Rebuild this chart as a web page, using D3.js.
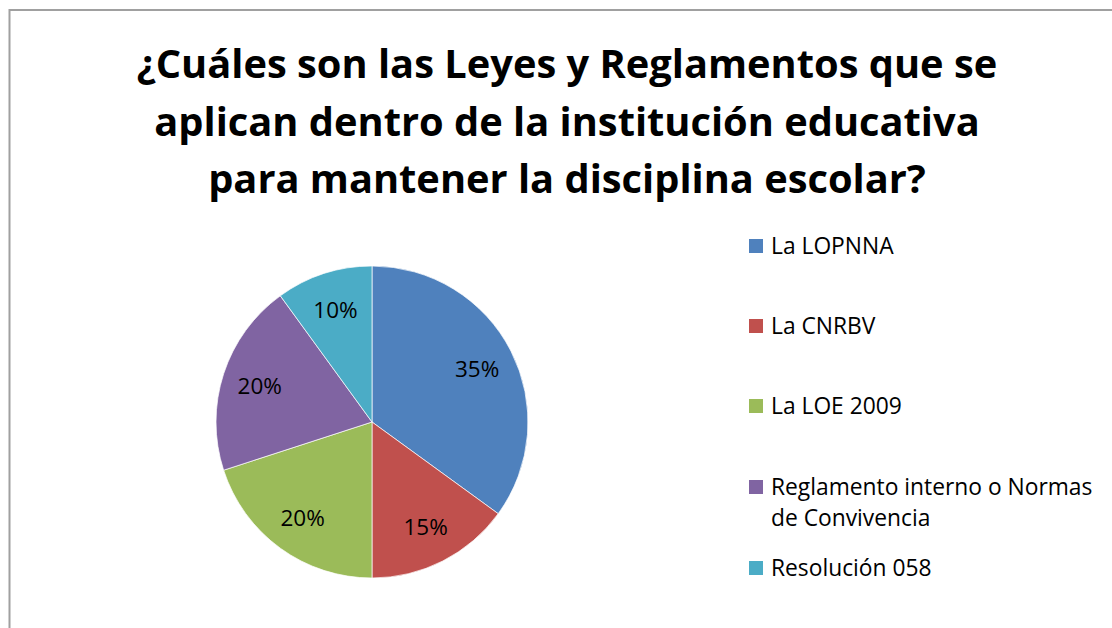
<!DOCTYPE html>
<meta charset="utf-8">
<style>
body { margin: 0; background: #fff; }
text { font-family: "Open Sans", sans-serif; fill: #000; }
.title { font-weight: bold; font-size: 39.8px; }
.legend text { font-size: 22.8px; }
.lbl { font-size: 22.5px; }
</style>
<svg width="1112" height="628"></svg>
<script src="https://cdn.jsdelivr.net/npm/d3@7"></script>
<script>

var categories = ["La LOPNNA", "La CNRBV", "La LOE 2009", "Reglamento interno o Normas de Convivencia", "Resolución 058"];
var values = [35, 15, 20, 20, 10];
var colors = ["#4F81BD", "#C0504D", "#9BBB59", "#8064A2", "#4BACC6"];
var titleLines = ["¿Cuáles son las Leyes y Reglamentos que se", "aplican dentro de la institución educativa", "para mantener la disciplina escolar?"];

var svg = d3.select("svg");

// chart border (only top and left visible in the shot)
svg.append("rect")
    .attr("x", 9.5).attr("y", 10)
    .attr("width", 1200).attr("height", 700)
    .attr("fill", "none")
    .attr("stroke", "#a0a0a0")
    .attr("stroke-width", 2);

svg.append("g").selectAll("text")
    .data(titleLines)
    .enter().append("text")
    .attr("class", "title")
    .attr("x", 567)
    .attr("y", function(d, i) { return 78 + i * 57.5; })
    .attr("text-anchor", "middle")
    .text(function(d) { return d; });

var cx = 372, cy = 422, R = 156;
var color = d3.scaleOrdinal().domain(categories).range(colors);

var pie = d3.pie().sort(null).value(function(d) { return d.v; });
var data = categories.map(function(c, i) { return {name: c, v: values[i]}; });
var arcs = pie(data);

var arc = d3.arc().innerRadius(0).outerRadius(R);
var labelArc = d3.arc().innerRadius(118).outerRadius(118);

var g = svg.append("g").attr("transform", "translate(" + cx + "," + cy + ")");

g.selectAll("path")
    .data(arcs)
    .enter().append("path")
    .attr("d", arc)
    .attr("fill", function(d) { return color(d.data.name); })
    .attr("stroke", "#fff")
    .attr("stroke-width", 0.7);

var total = d3.sum(values);
g.selectAll("text")
    .data(arcs)
    .enter().append("text")
    .attr("class", "lbl")
    .attr("transform", function(d) { return "translate(" + labelArc.centroid(d) + ")"; })
    .attr("text-anchor", "middle")
    .attr("dy", "0.36em")
    .text(function(d) { return Math.round(d.data.v / total * 100) + "%"; });

// legend
var legendY = [246, 326, 406, 487, 568];
var legend = svg.append("g").attr("class", "legend");
var item = legend.selectAll("g")
    .data(categories)
    .enter().append("g")
    .attr("transform", function(d, i) { return "translate(749," + legendY[i] + ")"; });

item.append("rect")
    .attr("x", 0).attr("y", -7)
    .attr("width", 14).attr("height", 14)
    .attr("fill", function(d) { return color(d); });

item.append("text")
    .attr("x", 22)
    .attr("dy", "0.36em")
    .each(function(d) {
      var t = d3.select(this);
      if (d.indexOf("Reglamento") === 0) {
        t.append("tspan").attr("x", 22).text("Reglamento interno o Normas");
        t.append("tspan").attr("x", 22).attr("dy", 31).text("de Convivencia");
      } else {
        t.text(d);
      }
    });

</script>
